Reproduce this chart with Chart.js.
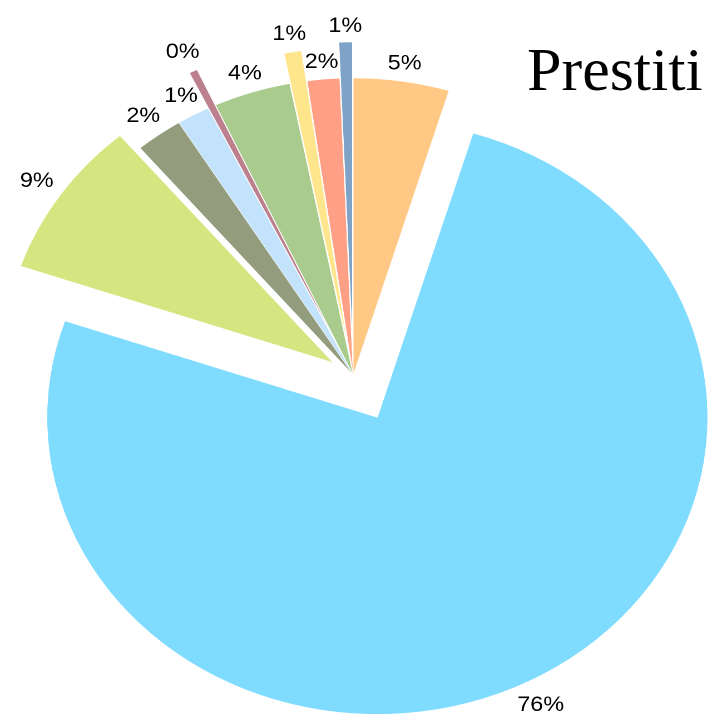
<!doctype html>
<html>
  <head>
    <title>Prestiti</title>
    <script src="https://cdn.jsdelivr.net/npm/chart.js@4/dist/chart.umd.min.js"></script>
    <style>
        * { margin: 0; padding: 0; box-sizing: border-box; }
        body { background: #fff; width: 712px; height: 714px; overflow: hidden; position: relative; }
        /* the original picture is stretched sideways, so the canvas is too */
        #wrap { position: absolute; left: 0; top: 0; width: 640px; height: 714px; transform: scaleX(1.1125); transform-origin: 0 0; }
        #titolo { position: absolute; left: 527px; top: 38px; font: 62px "Liberation Serif", "Times New Roman", serif; line-height: 1; color: #000; }
    </style>
  </head>
  <body>
    <div id="wrap"><canvas id="torta" width="640" height="714"></canvas></div>
    <div id="titolo">Prestiti</div>

    <script>
    // slices clockwise from 12 o'clock
    const etichette = ['5%', '76%', '9%', '2%', '1%', '0%', '4%', '1%', '2%', '1%'];
    const valori = [4.68, 75.6, 8.58, 2.31, 1.61, 0.40, 3.76, 0.85, 1.58, 0.65];
    const colori = ['#FFC885', '#80DCFF', '#D5E57F', '#949C7E', '#C2E3FB', '#BB7F8E', '#A9CB8D', '#FFE68C', '#FF9F85', '#7FA3C6'];
    // how far each slice is pulled out (px)
    const esplosione = [0, 47.6, 22, 0, 0, 39, 0, 30.5, 0, 36];

    // pull slices out without growing them (chart.js offset also enlarges the arc)
    const sposta = {
      id: 'sposta',
      afterUpdate(chart) {
        const area = chart.chartArea;
        const cx = (area.left + area.right) / 2;
        const cy = (area.top + area.bottom) / 2;
        chart.getDatasetMeta(0).data.forEach((arc, i) => {
          const mid = (arc.startAngle + arc.endAngle) / 2;
          arc.x = cx + Math.cos(mid) * esplosione[i];
          arc.y = cy + Math.sin(mid) * esplosione[i];
        });
      }
    };

    // percent labels just outside each slice
    const percentuali = {
      id: 'percentuali',
      afterDatasetsDraw(chart) {
        const ctx = chart.ctx;
        ctx.save();
        ctx.font = '21px "Liberation Sans", Arial, sans-serif';
        ctx.fillStyle = '#000';
        ctx.textAlign = 'center';
        ctx.textBaseline = 'middle';
        chart.getDatasetMeta(0).data.forEach((arc, i) => {
          const mid = (arc.startAngle + arc.endAngle) / 2;
          const c = Math.cos(mid), s = Math.sin(mid);
          const w = ctx.measureText(etichette[i]).width / 2;
          const r = arc.outerRadius + 9 + Math.abs(c) * w + Math.abs(s) * 7.5;
          ctx.fillText(etichette[i], arc.x + c * r, arc.y + s * r + 1);
        });
        ctx.restore();
      }
    };

    var ctx = document.getElementById('torta').getContext('2d');
    var torta = new Chart(ctx, {
        type: 'pie',
        data: {
            labels: etichette,
            datasets: [{
            data: valori,
            backgroundColor: colori,
            borderColor: '#fff',
            borderWidth: 0.5
            }]
        },
        options: {
            responsive: false,
            devicePixelRatio: 2,
            animation: false,
            events: [],
            radius: 297,
            layout: { padding: { top: 36, right: 5 } },
            plugins: {
                legend: { display: false },
                tooltip: { enabled: false }
            }
        },
        plugins: [sposta, percentuali]
    });
    </script>
  </body>
</html>
